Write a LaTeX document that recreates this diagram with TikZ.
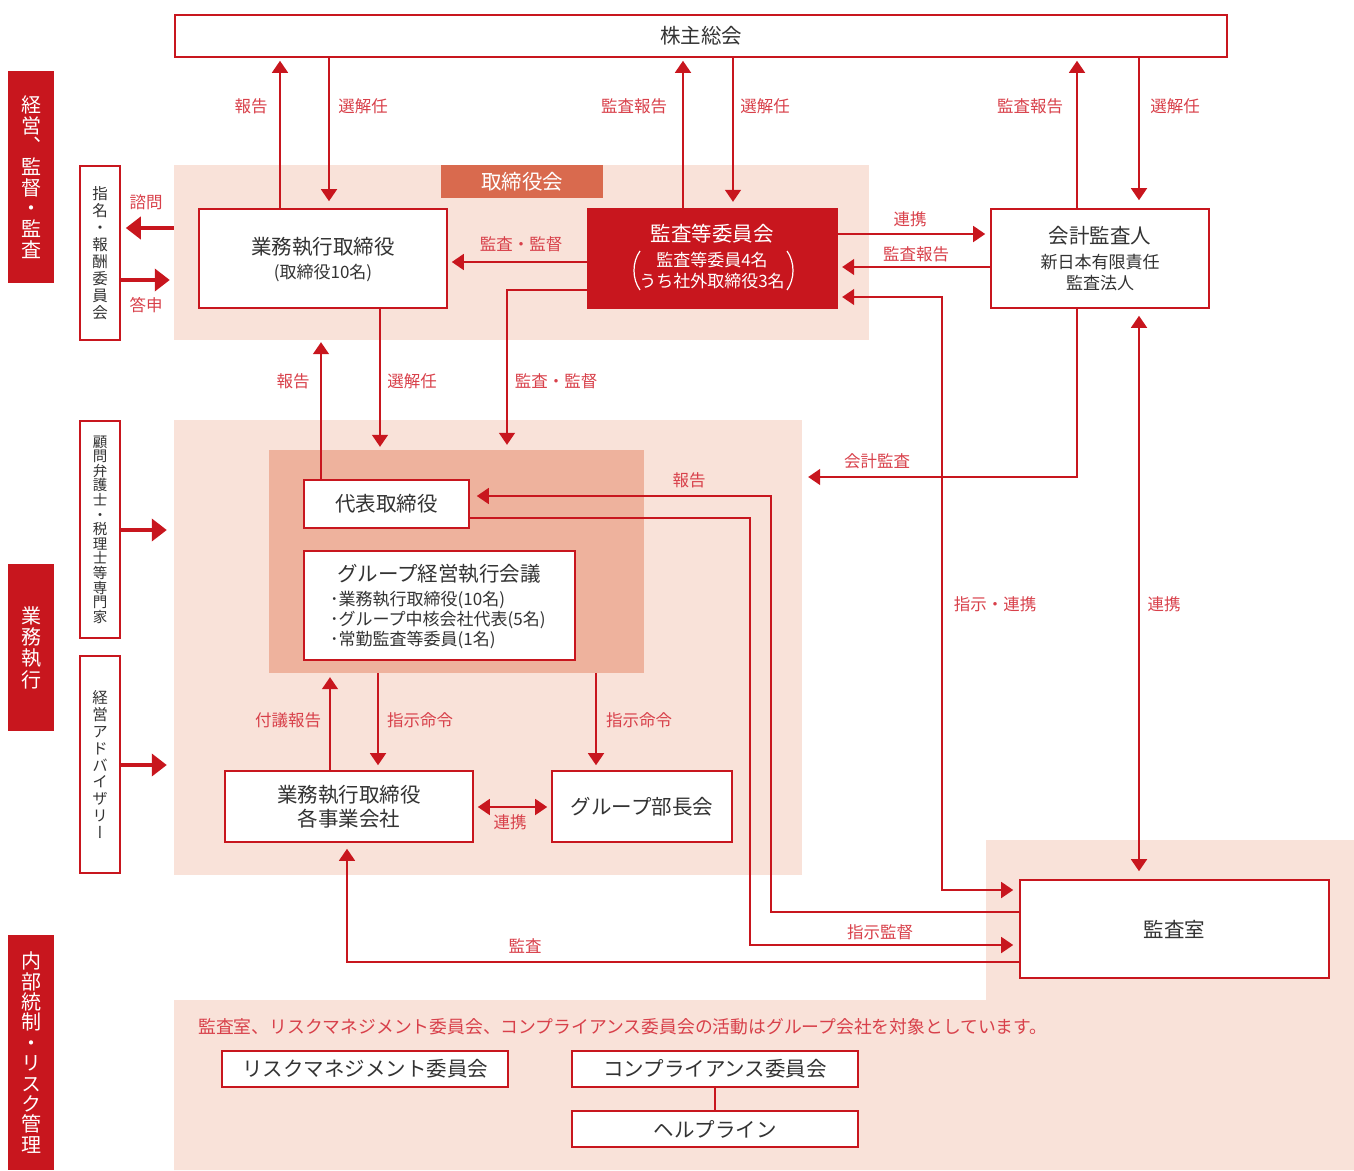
\documentclass[tikz,border=0pt]{standalone}
\usepackage{fontspec}
\setmainfont{Noto Sans CJK JP}
\newfontfamily\vfont[RawFeature=+vert]{Noto Sans CJK JP}
\usetikzlibrary{arrows.meta}
\definecolor{cred}{HTML}{C8161E}
\definecolor{clab}{HTML}{D8404A}
\definecolor{cpink}{HTML}{F9E2D9}
\definecolor{cpinkb}{HTML}{EEB29D}
\definecolor{corange}{HTML}{D96A4E}
\definecolor{ctext}{HTML}{333333}
\newcommand\fMain{\fontsize{20.5}{24}\selectfont}
\newcommand\fSub{\fontsize{17}{21}\selectfont}
\newcommand\fLab{\fontsize{16.5}{19}\selectfont}
\begin{document}
\begin{tikzpicture}[x=1pt,y=-1pt,
  ln/.style={draw=cred, line width=1.6pt},
  arr/.style={-{Triangle[length=12pt,width=16pt]}},
  darr/.style={{Triangle[length=12pt,width=16pt]}-{Triangle[length=12pt,width=16pt]}},
  tarr/.style={draw=cred, line width=4pt, -{Triangle[length=15pt,width=22pt]}},
  box/.style={draw=cred, line width=1.6pt, fill=white, inner sep=0pt, text=ctext, align=center},
  region/.style={fill=cpink, draw=none, inner sep=0pt},
  lab/.style={text=clab, inner sep=0pt, font=\fLab},
  vbar/.style={fill=cred, text=white, inner sep=0pt, align=center},
  vbox/.style={draw=cred, line width=1.6pt, fill=white, inner sep=0pt, text=ctext, align=center},
]
\useasboundingbox (0,0) rectangle (1354,1170);

% ---------- background regions ----------
\node[region, minimum width=695, minimum height=175] (r1) at (521.5,252.5) {};
\node[region, minimum width=628, minimum height=455] (r2) at (488,647.5) {};
\fill[cpink] (174,1000) -- (986,1000) -- (986,840) -- (1354,840) -- (1354,1170) -- (174,1170) -- cycle;
\node[fill=cpinkb, draw=none, inner sep=0pt, minimum width=375, minimum height=223] (inner) at (456.5,561.5) {};
\node[fill=corange, text=white, inner sep=0pt, minimum width=162, minimum height=33, font=\fMain] (bdlab) at (522,181.5) {取締役会};

% ---------- left category bars ----------
\node[vbar, minimum width=46, minimum height=212, font=\vfont\fontsize{20}{20.7}\selectfont] (bar1) at (31,177) {経\\営\\、\\監\\督\\・\\監\\査};
\node[vbar, minimum width=46, minimum height=167, font=\vfont\fontsize{20}{21.3}\selectfont] (bar2) at (31,647.5) {業\\務\\執\\行};
\node[vbar, minimum width=46, minimum height=235, font=\vfont\fontsize{20}{20.4}\selectfont] (bar3) at (31,1052.5) {内\\部\\統\\制\\・\\リ\\ス\\ク\\管\\理};

% ---------- left vertical boxes ----------
\node[vbox, minimum width=40, minimum height=174, font=\vfont\fontsize{15.5}{17.1}\selectfont] (nom) at (100,253) {指\\名\\・\\報\\酬\\委\\員\\会};
\node[vbox, minimum width=40, minimum height=217, font=\vfont\fontsize{14.5}{14.6}\selectfont] (adv1) at (100,529.5) {顧\\問\\弁\\護\\士\\・\\税\\理\\士\\等\\専\\門\\家};
\node[vbox, minimum width=40, minimum height=217, font=\vfont\fontsize{15.5}{16.8}\selectfont] (adv2) at (100,764.5) {経\\営\\ア\\ド\\バ\\イ\\ザ\\リ\\ー};

% ---------- main boxes ----------
\node[box, minimum width=1052, minimum height=42, font=\fMain] (sh) at (701,36) {株主総会};
\node[box, minimum width=248, minimum height=99] (exec) at (323,258.5) {};
\node[text=ctext, font=\fMain, inner sep=0pt] (execT) at (323,247) {業務執行取締役};
\node[text=ctext, font=\fSub, inner sep=0pt] (execS) at (323,273) {(取締役10名)};

\node[fill=cred, draw=cred, inner sep=0pt, minimum width=250, minimum height=100] (audc) at (712,258) {};
\node[text=white, font=\fMain, inner sep=0pt] (audcT) at (712,234) {監査等委員会};
\node[text=white, font=\fSub, inner sep=0pt] (audcS1) at (712,260) {監査等委員4名};
\node[text=white, font=\fSub, inner sep=0pt] (audcS2) at (712,281) {うち社外取締役3名};
\draw[white, line width=1.2pt] (640,251) .. controls (632,262) and (632,279) .. (640,290);
\draw[white, line width=1.2pt] (787,251) .. controls (795,262) and (795,279) .. (787,290);

\node[box, minimum width=218, minimum height=99] (acct) at (1100,258.5) {};
\node[text=ctext, font=\fMain, inner sep=0pt] (acctT) at (1100,236) {会計監査人};
\node[text=ctext, font=\fSub, inner sep=0pt] (acctS1) at (1100,262) {新日本有限責任};
\node[text=ctext, font=\fSub, inner sep=0pt] (acctS2) at (1100,283) {監査法人};

\node[box, minimum width=165, minimum height=48, font=\fMain] (rep) at (386.5,504) {代表取締役};
\node[box, line width=2.5pt, minimum width=271, minimum height=109] (gm) at (439.5,605.5) {};
\node[text=ctext, font=\fMain, inner sep=0pt] (gmT) at (439,574) {グループ経営執行会議};
\node[text=ctext, font=\fSub, inner sep=0pt, anchor=west] (gm1) at (330,600) {･業務執行取締役(10名)};
\node[text=ctext, font=\fSub, inner sep=0pt, anchor=west] (gm2) at (330,620) {･グループ中核会社代表(5名)};
\node[text=ctext, font=\fSub, inner sep=0pt, anchor=west] (gm3) at (330,640) {･常勤監査等委員(1名)};

\node[box, minimum width=248, minimum height=71, font=\fMain] (bu) at (349,806.5) {業務執行取締役\\各事業会社};
\node[box, minimum width=180, minimum height=71, font=\fMain] (gb) at (642,806.5) {グループ部長会};
\node[box, minimum width=309, minimum height=98, font=\fMain] (ia) at (1174.5,929) {監査室};

\node[box, minimum width=286, minimum height=36, font=\fMain] (rm) at (365,1069) {リスクマネジメント委員会};
\node[box, minimum width=286, minimum height=36, font=\fMain] (cc) at (715,1069) {コンプライアンス委員会};
\node[box, minimum width=286, minimum height=36, font=\fMain] (hl) at (715,1129) {ヘルプライン};
\draw[ln] (cc.south) -- (hl.north);

\node[text=clab, inner sep=0pt, anchor=west, font=\fontsize{17.8}{20}\selectfont] (note) at (198,1027) {監査室、リスクマネジメント委員会、コンプライアンス委員会の活動はグループ会社を対象としています。};

% ---------- helper coordinates ----------
\coordinate (vx280) at (280,0);  \coordinate (vx329) at (329,0);
\coordinate (vx683) at (683,0);  \coordinate (vx733) at (733,0);
\coordinate (vx1077) at (1077,0); \coordinate (vx1139) at (1139,0);
\coordinate (vx321) at (321,0);  \coordinate (vx380) at (380,0);
\coordinate (vx507) at (507,0);  \coordinate (vx942) at (942,0);
\coordinate (vx771) at (771,0);  \coordinate (vx750) at (750,0);
\coordinate (vx347) at (347,0);  \coordinate (vx330) at (330,0);
\coordinate (vx378) at (378,0);  \coordinate (vx596) at (596,0);
\coordinate (hy262) at (0,262);  \coordinate (hy234) at (0,234);
\coordinate (hy267) at (0,267);  \coordinate (hy297) at (0,297);
\coordinate (hy290) at (0,290);  \coordinate (hy890) at (0,890);
\coordinate (hy477) at (0,477);  \coordinate (hy496) at (0,496);
\coordinate (hy518) at (0,518);  \coordinate (hy912) at (0,912);
\coordinate (hy945) at (0,945);  \coordinate (hy962) at (0,962);
\coordinate (hy807) at (0,807);  \coordinate (hy228) at (0,228);
\coordinate (hy280) at (0,280);  \coordinate (hy530) at (0,530);
\coordinate (hy765) at (0,765);

% ---------- connectors: shareholders ----------
\draw[ln,arr,shorten >=3pt] (exec.north -| vx280) -- (sh.south -| vx280);
\draw[ln,arr,shorten >=7pt] (sh.south -| vx329) -- (exec.north -| vx329);
\draw[ln,arr,shorten >=3pt] (audc.north -| vx683) -- (sh.south -| vx683);
\draw[ln,arr,shorten >=6pt] (sh.south -| vx733) -- (audc.north -| vx733);
\draw[ln,arr,shorten >=3pt] (acct.north -| vx1077) -- (sh.south -| vx1077);
\draw[ln,arr,shorten >=8pt] (sh.south -| vx1139) -- (acct.north -| vx1139);
\node[lab] (l1) at (251,106) {報告};
\node[lab] (l2) at (363,106) {選解任};
\node[lab] (l3) at (634,106) {監査報告};
\node[lab] (l4) at (765,106) {選解任};
\node[lab] (l5) at (1030,106) {監査報告};
\node[lab] (l6) at (1175,106) {選解任};

% ---------- board level ----------
\draw[ln,arr,shorten >=4pt] (audc.west |- hy262) -- (exec.east |- hy262);
\draw[ln,arr,shorten >=5pt] (audc.east |- hy234) -- (acct.west |- hy234);
\draw[ln,arr,shorten >=5pt] (acct.west |- hy267) -- (audc.east |- hy267);
\node[lab] (l7) at (521,244) {監査・監督};
\node[lab] (l8) at (910,219) {連携};
\node[lab] (l9) at (916,254) {監査報告};

% thick arrows to committee / advisors
\draw[tarr,shorten >=5pt] (r1.west |- hy228) -- (nom.east |- hy228);
\draw[tarr,shorten >=4pt] (nom.east |- hy280) -- (r1.west |- hy280);
\draw[tarr,shorten >=7pt] (adv1.east |- hy530) -- (r2.west |- hy530);
\draw[tarr,shorten >=7pt] (adv2.east |- hy765) -- (r2.west |- hy765);
\node[lab] (l10) at (146,202) {諮問};
\node[lab] (l11) at (146,305) {答申};

% ---------- board to execution ----------
\draw[ln,arr,shorten >=2pt] (rep.north -| vx321) -- (r1.south -| vx321);
\draw[ln,arr,shorten >=3pt] (exec.south -| vx380) -- (inner.north -| vx380);
\draw[ln,arr,shorten >=5pt] (audc.west |- hy290) -| (inner.north -| vx507);
\node[lab] (l12) at (293,381) {報告};
\node[lab] (l13) at (412,381) {選解任};
\node[lab] (l14) at (556,381) {監査・監督};

% ---------- accounting auditor & audit office ----------
\draw[ln,arr,shorten >=6pt] (acct.south -| vx1077) |- (r2.east |- hy477);
\node[lab] (l15) at (877,461) {会計監査};
\draw[ln,darr,shorten <=7pt,shorten >=8pt] (acct.south -| vx1139) -- (ia.north -| vx1139);
\node[lab] (l16) at (1164,604) {連携};
\draw[ln,darr,shorten <=5pt,shorten >=6pt] (audc.east |- hy297) -| (vx942 |- hy890) -- (ia.west |- hy890);
\node[lab] (l17) at (995,604) {指示・連携};
\draw[ln,arr,shorten >=7pt] (ia.west |- hy912) -| (vx771 |- hy496) -- (rep.east |- hy496);
\node[lab] (l18) at (689,480) {報告};
\draw[ln,arr,shorten >=6pt] (rep.east |- hy518) -| (vx750 |- hy945) -- (ia.west |- hy945);
\node[lab] (l19) at (880,932) {指示監督};
\draw[ln,arr,shorten >=6pt] (ia.west |- hy962) -| (bu.south -| vx347);
\node[lab] (l20) at (525,946) {監査};

% ---------- execution level ----------
\draw[ln,arr,shorten >=4pt] (bu.north -| vx330) -- (inner.south -| vx330);
\draw[ln,arr,shorten >=5pt] (inner.south -| vx378) -- (bu.north -| vx378);
\draw[ln,arr,shorten >=5pt] (inner.south -| vx596) -- (gb.north -| vx596);
\draw[ln,darr,shorten <=4pt,shorten >=4pt] (bu.east |- hy807) -- (gb.west |- hy807);
\node[lab] (l21) at (288,720) {付議報告};
\node[lab] (l22) at (420,720) {指示命令};
\node[lab] (l23) at (639,720) {指示命令};
\node[lab] (l24) at (510,822) {連携};
\end{tikzpicture}
\end{document}
